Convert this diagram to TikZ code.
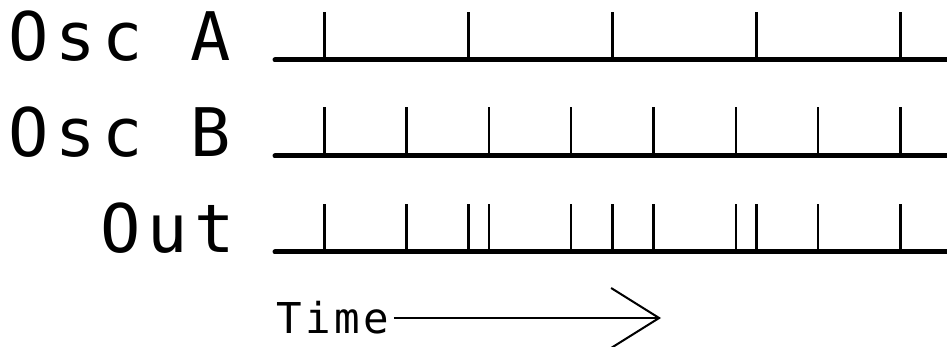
\documentclass[tikz,border=0pt]{standalone}
\usepackage{fontspec}
\setmonofont{DejaVu Sans Mono}
\newfontfamily\labfont[LetterSpace=10]{DejaVu Sans Mono}
\newfontfamily\timefont[LetterSpace=8]{DejaVu Sans Mono}
\usetikzlibrary{arrows.meta}
\begin{document}
\begin{tikzpicture}[x=1pt,y=-1pt,
  lab/.style={inner sep=0pt,anchor=base west,font=\labfont\fontsize{67}{67}\selectfont},
  tlab/.style={inner sep=0pt,font=\timefont\fontsize{42.5}{42.5}\selectfont},
  baseline rule/.style={line width=5pt,line cap=round},
  pulse/.style={line width=2.5pt},
  timearrow/.style={line width=2pt,-{Straight Barb[length=48pt,width=60pt,line width=2pt]}}]
\useasboundingbox (0,0) rectangle (947,347);
% labels
\node[lab] (la) at (8.4,61) {Osc A};
\node[lab] (lb) at (8.4,157) {Osc B};
\node[lab] (lo) at (100.4,252) {Out};
% baselines
\coordinate (a0) at (275,60);
\coordinate (a1) at (950,60);
\coordinate (b0) at (275,156);
\coordinate (b1) at (950,156);
\coordinate (o0) at (275,252);
\coordinate (o1) at (950,252);
\draw[baseline rule] (a0) -- (a1);
\draw[baseline rule] (b0) -- (b1);
\draw[baseline rule] (o0) -- (o1);
% Osc A pulses
\foreach \i in {0,...,4}{
  \draw[pulse] (324.3+144*\i,60) -- ++(0,-48);
  \draw[pulse] (324.3+144*\i,252) -- ++(0,-48);
}
% Osc B pulses
\foreach \i in {0,...,7}{
  \draw[pulse] (324.3+82.29*\i,156) -- ++(0,-49);
  \draw[pulse] (324.3+82.29*\i,252) -- ++(0,-48);
}
% time arrow
\node[tlab,anchor=base west] (time) at (276,333) {Time};
\coordinate (tip) at (661,318);
\draw[timearrow] ([xshift=5pt]time.east |- tip) -- (tip);
\end{tikzpicture}
\end{document}
